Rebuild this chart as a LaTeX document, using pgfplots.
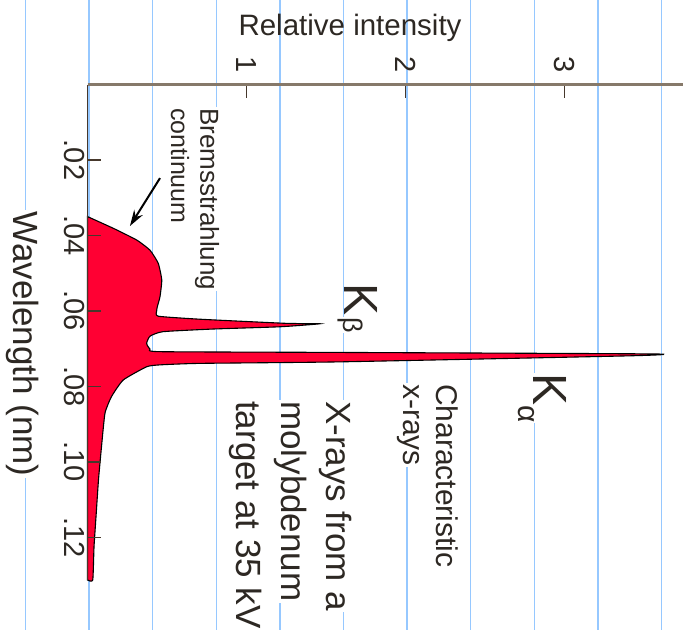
\documentclass[border=0pt]{standalone}
\usepackage{fontspec}
\setmainfont{Liberation Sans}
\usepackage{pgfplots}
\pgfplotsset{compat=1.18}
\usetikzlibrary{arrows.meta}

\definecolor{rule}{RGB}{150,200,255}
\definecolor{peakred}{RGB}{255,0,51}
\definecolor{axisgray}{RGB}{134,121,106}
\definecolor{axisdark}{RGB}{70,56,44}
\definecolor{ink}{RGB}{45,40,35}

% Molybdenum target, 35 kV: outline of the spectrum (relative intensity vs. wavelength in nm)
\pgfplotstableread{
I      wl
0.000  0.0350
0.162  0.0381
0.309  0.0412
0.393  0.0439
0.445  0.0474
0.467  0.0518
0.456  0.0562
0.439  0.0589
0.435  0.0600
0.445  0.0614
0.708  0.0622
1.253  0.0633
1.462  0.0634
1.211  0.0642
0.789  0.0648
0.475  0.0655
0.393  0.0667
0.372  0.0686
0.393  0.0701
0.456  0.0708
1.588  0.0710
3.559  0.0714
3.410  0.0719
1.588  0.0735
0.708  0.0739
0.456  0.0743
0.372  0.0748
0.225  0.0783
0.151  0.0827
0.110  0.0871
0.088  0.0960
0.069  0.1048
0.055  0.1136
0.041  0.1225
0.033  0.1313
0.000  0.1313
}\spectrum

\newcommand{\fs}[1]{\fontsize{#1}{#1}\selectfont}

\begin{document}
\begin{tikzpicture}
\begin{axis}[
  x=159pt, y=3773pt,
  y dir=reverse,
  xmin=0, xmax=3.745, ymin=0, ymax=0.1313,
  axis x line*=top, axis y line*=left,
  axis on top,
  clip=false,
  xtick={1,2,3}, xticklabels={1,2,3},
  ytick={0.02,0.04,0.06,0.08,0.10,0.12},
  yticklabels={.02,.04,.06,.08,.10,.12},
  xtick align=inside, ytick align=inside,
  xtick pos=right, ytick pos=left,
  major tick length=13pt,
  every tick/.style={line width=1.6pt, draw=axisdark},
  x axis line style={line width=3pt, color=axisgray},
  y axis line style={line width=1.5pt, color=axisdark},
  xticklabel style={rotate=-90, anchor=center, text=ink, font=\fs{29}},
  yticklabel style={rotate=-90, anchor=center, text=ink, font=\fs{29}},
  xticklabel shift=20pt,
  yticklabel shift=13pt,
]
  % page extent and white paper
  \coordinate (bbnw) at (axis cs:-0.5503,-0.0224);
  \coordinate (bbse) at (axis cs:3.745,0.14458);
  \fill[white] (bbnw) rectangle (bbse);
  % ruled paper
  \pgfplotsinvokeforeach{-0.39,0.01,0.41,0.81,1.21,1.61,2.01,2.41,2.81,3.21,3.61}{
    \draw[rule, line width=1.4pt] (axis cs:#1,-0.0224) -- (axis cs:#1,0.14458);
  }

  \addplot[fill=peakred, draw=black, line width=1.1pt, smooth, tension=0.3]
    table[x=I, y=wl] {\spectrum} -- cycle;

  % annotations
  \node[text=ink, font=\fs{29.5}] at (axis cs:1.651,-0.01498) {Relative intensity};
  \node[rotate=-90, fill=white, inner sep=1pt, text=ink, font=\fs{35}]
    at (axis cs:-0.4057,0.06878) {Wavelength (nm)};

  \node[rotate=-90, anchor=west, fill=white, inner sep=1pt, text=ink, font=\fs{26}]
    at (axis cs:0.752,0.00597) {Bremsstrahlung};
  \node[rotate=-90, anchor=west, fill=white, inner sep=1pt, text=ink, font=\fs{25}]
    at (axis cs:0.582,0.00597) {continuum};
  \draw[-{Stealth[length=16pt,width=10pt]}, line width=2pt, black]
    (axis cs:0.456,0.0248) -- (axis cs:0.267,0.0375);

  \node[rotate=-90, fill=white, inner sep=0.5pt, text=ink, font=\fs{48}]
    at (axis cs:1.717,0.05685) {K};
  \node[rotate=-90, fill=white, inner sep=0.5pt, text=ink, font=\fs{27}]
    at (axis cs:1.651,0.0637) {β};
  \node[rotate=-90, fill=white, inner sep=0.5pt, text=ink, font=\fs{48}]
    at (axis cs:2.909,0.0807) {K};
  \node[rotate=-90, fill=white, inner sep=0.5pt, text=ink, font=\fs{30}]
    at (axis cs:2.758,0.0873) {α};

  \node[rotate=-90, anchor=west, fill=white, inner sep=1pt, text=ink, font=\fs{30}]
    at (axis cs:2.261,0.0791) {Characteristic};
  \node[rotate=-90, anchor=west, fill=white, inner sep=1pt, text=ink, font=\fs{30}]
    at (axis cs:2.016,0.0791) {x-rays};

  \node[rotate=-90, anchor=west, fill=white, inner sep=1pt, text=ink, font=\fs{35}]
    at (axis cs:1.557,0.0836) {X-rays from a};
  \node[rotate=-90, anchor=west, fill=white, inner sep=1pt, text=ink, font=\fs{35}]
    at (axis cs:1.274,0.0836) {molybdenum};
  \node[rotate=-90, anchor=west, fill=white, inner sep=1pt, text=ink, font=\fs{35}]
    at (axis cs:0.997,0.0836) {target at 35 kV};
\end{axis}
\pgfresetboundingbox
\path[use as bounding box] (bbnw) rectangle (bbse);
\end{tikzpicture}
\end{document}
